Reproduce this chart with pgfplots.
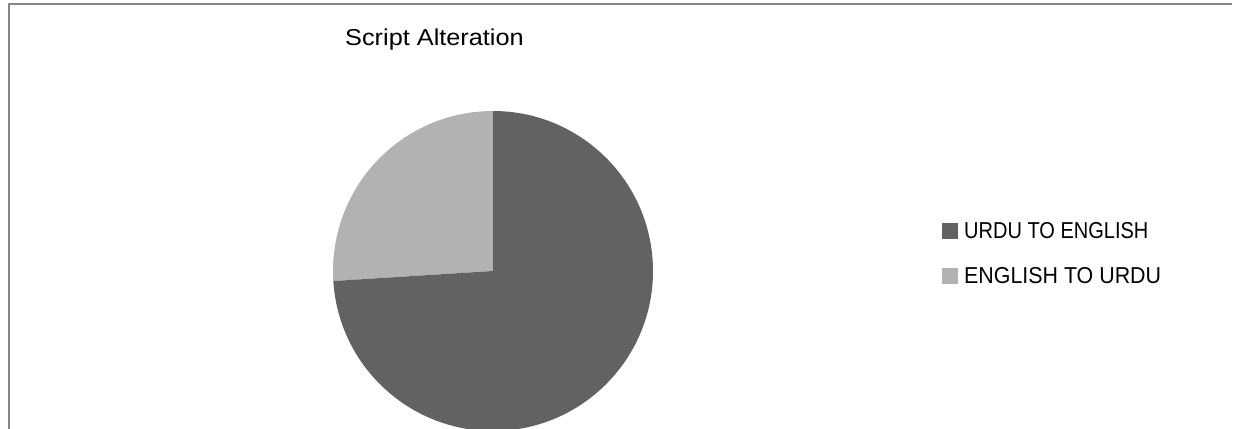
\documentclass[border=0pt]{standalone}
\usepackage{pgfplots}
\pgfplotsset{compat=1.18}
\usepackage{fontspec}
\setmainfont{Liberation Sans}
\definecolor{darkslice}{RGB}{98,98,98}
\definecolor{lightslice}{RGB}{178,178,178}
\definecolor{framegray}{RGB}{134,134,134}
\newcommand{\bigtxt}[2]{{\fontsize{23bp}{27bp}\selectfont\scalebox{#1}[1]{#2}}}
\begin{document}
\begin{tikzpicture}
\useasboundingbox (0,0) rectangle (1235bp,429bp);
\clip (0,0) rectangle (1235bp,429bp);
\begin{axis}[
  at={(0,0)}, anchor=south west,
  scale only axis, width=1235bp, height=429bp,
  xmin=0, xmax=1235, ymin=0, ymax=429,
  hide axis, clip=false,
]
% slice values (percent)
\def\vUE{74}
\def\vEU{26}
\pgfmathsetmacro{\aEnd}{90+\vEU*3.6}
% pie: centre (493,158), radius 160
\fill[lightslice] (axis cs:493,158) -- ++(90:160bp) arc[start angle=90, end angle=\aEnd, radius=160bp] -- cycle;
\fill[darkslice] (axis cs:493,158) -- ++(\aEnd:160bp) arc[start angle=\aEnd, end angle=450, radius=160bp] -- cycle;
% title
\node[anchor=base west, inner sep=0pt] at (axis cs:345,383) {\bigtxt{1.10}{Script Alteration}};
% legend
\fill[darkslice] (axis cs:942,190) rectangle (axis cs:958,206);
\node[anchor=base west, inner sep=0pt] at (axis cs:964,190) {\bigtxt{0.87}{URDU TO ENGLISH}};
\fill[lightslice] (axis cs:942,145) rectangle (axis cs:958,161);
\node[anchor=base west, inner sep=0pt] at (axis cs:964,145) {\bigtxt{0.93}{ENGLISH TO URDU}};
% frame
\draw[framegray, line width=2bp] (axis cs:9,0) -- (axis cs:9,425) -- (axis cs:1232,425);
\end{axis}
\end{tikzpicture}
\end{document}
